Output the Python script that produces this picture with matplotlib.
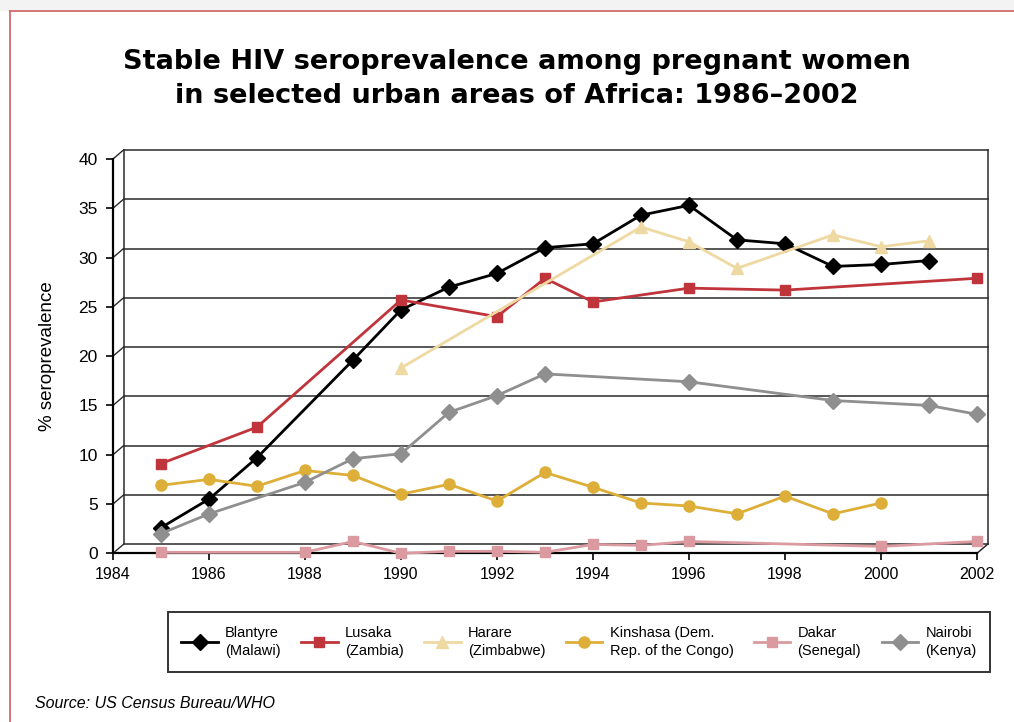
import matplotlib.pyplot as plt
from matplotlib.lines import Line2D
from matplotlib.patches import Rectangle

# data (% seroprevalence)
blantyre_years = [1985, 1986, 1987, 1989, 1990, 1991, 1992, 1993, 1994, 1995, 1996, 1997, 1998, 1999, 2000, 2001]
blantyre_vals = [2.6, 5.5, 9.7, 19.6, 24.7, 27.0, 28.4, 31.0, 31.4, 34.3, 35.3, 31.8, 31.4, 29.1, 29.3, 29.7]

lusaka_years = [1985, 1987, 1990, 1992, 1993, 1994, 1996, 1998, 2002]
lusaka_vals = [9.1, 12.8, 25.7, 24.0, 27.9, 25.5, 26.9, 26.7, 27.9]

harare_years = [1990, 1995, 1996, 1997, 1999, 2000, 2001]
harare_vals = [18.8, 33.1, 31.6, 28.9, 32.3, 31.1, 31.7]

kinshasa_years = [1985, 1986, 1987, 1988, 1989, 1990, 1991, 1992, 1993, 1994, 1995, 1996, 1997, 1998, 1999, 2000]
kinshasa_vals = [6.9, 7.5, 6.8, 8.4, 7.9, 6.0, 7.0, 5.3, 8.2, 6.7, 5.1, 4.8, 4.0, 5.8, 4.0, 5.1]

dakar_years = [1985, 1988, 1989, 1990, 1991, 1992, 1993, 1994, 1995, 1996, 2000, 2002]
dakar_vals = [0.1, 0.1, 1.2, 0.0, 0.2, 0.2, 0.1, 0.9, 0.8, 1.2, 0.7, 1.2]

nairobi_years = [1985, 1986, 1988, 1989, 1990, 1991, 1992, 1993, 1996, 1999, 2001, 2002]
nairobi_vals = [2.0, 4.0, 7.2, 9.6, 10.1, 14.3, 16.0, 18.2, 17.4, 15.5, 15.0, 14.1]

labels = ["Blantyre\n(Malawi)", "Lusaka\n(Zambia)", "Harare\n(Zimbabwe)",
          "Kinshasa (Dem.\nRep. of the Congo)", "Dakar\n(Senegal)", "Nairobi\n(Kenya)"]
x_ticks = list(range(1984, 2003, 2))
y_ticks = list(range(0, 41, 5))

series = [
    (blantyre_years, blantyre_vals, "#000000", "D", 8),
    (lusaka_years, lusaka_vals, "#C0353C", "s", 7.5),
    (harare_years, harare_vals, "#EFD9A2", "^", 8.5),
    (kinshasa_years, kinshasa_vals, "#DDAE38", "o", 8),
    (dakar_years, dakar_vals, "#DB9A9F", "s", 7.5),
    (nairobi_years, nairobi_vals, "#8F8F8F", "D", 8),
]

fig = plt.figure(figsize=(10.14, 7.22), dpi=100)
ax = fig.add_axes([113 / 1014, 1 - 553.3 / 722, 864 / 1014, 394.3 / 722])
ax.set_xlim(1984, 2002)
ax.set_ylim(0, 40)

# pseudo-3D back wall (offset behind the front axes)
dx = 10.5 / 48
dy = 9 / 9.86
for v in y_ticks:
    ax.plot([1984 + dx, 2002 + dx], [v + dy, v + dy], color="#2a2a2a", lw=1.1,
            clip_on=False, zorder=1)
    ax.plot([1984, 1984 + dx], [v, v + dy], color="#2a2a2a", lw=1.0, clip_on=False, zorder=1)
ax.plot([1984 + dx, 1984 + dx], [dy, 40 + dy], color="#2a2a2a", lw=1.1, clip_on=False, zorder=1)
ax.plot([2002 + dx, 2002 + dx], [dy, 40 + dy], color="#2a2a2a", lw=1.1, clip_on=False, zorder=1)
ax.plot([2002, 2002 + dx], [0, dy], color="#2a2a2a", lw=1.1, clip_on=False, zorder=1)

handles = []
for (xs, ys, col, mk, ms), lab in zip(series, labels):
    h, = ax.plot(xs, ys, color=col, marker=mk, ms=ms, lw=2.0, mec=col, mfc=col,
                 clip_on=False, zorder=3, label=lab)
    handles.append(h)

for s in ["top", "right"]:
    ax.spines[s].set_visible(False)
for s in ["left", "bottom"]:
    ax.spines[s].set_linewidth(1.6)
ax.set_xticks(x_ticks)
ax.set_yticks(y_ticks)
ax.tick_params(direction="out", length=5, width=1.2, colors="black")
ax.tick_params(axis="y", labelsize=12.5, pad=6)
ax.tick_params(axis="x", labelsize=11.5, pad=5)
for t in ax.get_xticklabels() + ax.get_yticklabels():
    t.set_family("Liberation Sans")
ax.set_ylabel("% seroprevalence", fontsize=13.5, family="Liberation Sans", labelpad=16)

fig.text(517 / 1014, 1 - 79 / 722, "Stable HIV seroprevalence among pregnant women\nin selected urban areas of Africa: 1986\u20132002",
         ha="center", va="center", fontsize=19.5, fontweight="bold", family="DejaVu Sans",
         linespacing=1.42)

leg = fig.legend(handles=handles, loc="center", bbox_to_anchor=(579 / 1014, 1 - 642 / 722),
                 ncol=6, frameon=True, fancybox=False, edgecolor="black",
                 handlelength=2.5, handletextpad=0.5, columnspacing=1.4,
                 borderpad=0.9, prop={"family": "Liberation Sans", "size": 10.5})
leg.get_frame().set_linewidth(1.4)
for t in leg.get_texts():
    t.set_linespacing(1.45)

fig.text(35 / 1014, 1 - 703 / 722, "Source: US Census Bureau/WHO", ha="left", va="center",
         fontsize=11.5, style="italic", family="Liberation Sans")

# page border
fig.add_artist(Rectangle((0, 1 - 11 / 722), 1, 11 / 722, transform=fig.transFigure,
                         facecolor="#f3f3f3", edgecolor="none"))
fig.add_artist(Line2D([10 / 1014, 10 / 1014], [0, 1 - 11 / 722], transform=fig.transFigure,
                      color="#D06A6E", lw=1.3))
fig.add_artist(Line2D([10 / 1014, 1], [1 - 11 / 722, 1 - 11 / 722], transform=fig.transFigure,
                      color="#D06A6E", lw=1.3))

fig.savefig("out.png", dpi=100)
